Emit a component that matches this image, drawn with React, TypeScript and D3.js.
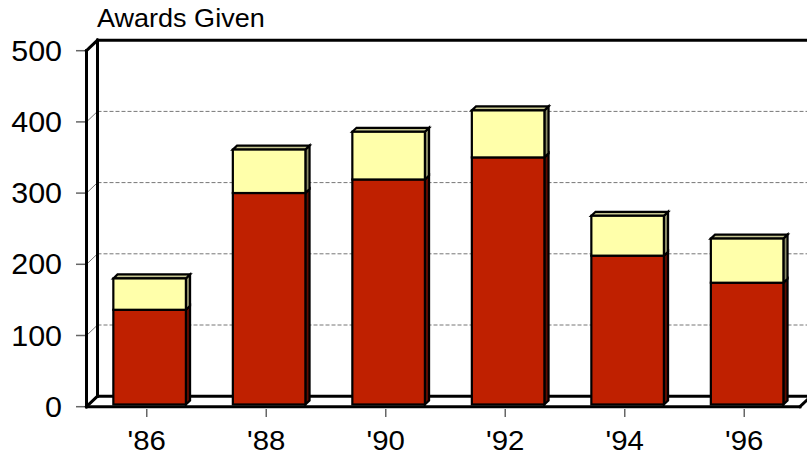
import React from "react";
import * as d3 from "d3";

const categories = ["'86", "'88", "'90", "'92", "'94", "'96"];
const redValues = [133, 297, 316, 347, 209, 171];
const yellowValues = [44, 61, 67, 66, 56, 62];
const yTicks = [0, 100, 200, 300, 400, 500];
const title = "Awards Given";

const W = 807;
const H = 458;
const DX = 11;
const DY = -10.5;
const FONT = "'Liberation Sans', Arial, sans-serif";

export default function App() {
  const y = d3.scaleLinear().domain([0, 500]).range([406.7, 50.7]);
  const x = d3
    .scaleBand<string>()
    .domain(categories)
    .range([87, 804])
    .paddingInner(0.393)
    .paddingOuter(0.1965);

  const xL = 86.5;
  const xR = 800;
  const f0 = 0.26;
  const f1 = 0.64;

  const poly = (pts: [number, number][]) => pts.map((p) => p.join(",")).join(" ");

  const bars = categories.map((c, i) => {
    const left = (x(c) as number) + DX * f0;
    const right = left + x.bandwidth();
    const oy = DY * f0;
    const ddx = DX * (f1 - f0);
    const ddy = DY * (f1 - f0);
    const yb = y(0) + oy + 0.5;
    const yr = y(redValues[i]) + oy + 0.5;
    const yt = y(redValues[i] + yellowValues[i]) + oy + 0.5;
    return (
      <g key={c} stroke="#000" strokeWidth={2.2} strokeLinejoin="miter">
        <polygon points={poly([[right, yb], [right + ddx, yb + ddy], [right + ddx, yr + ddy], [right, yr]])} fill="#5c0c00" />
        <polygon points={poly([[right, yr], [right + ddx, yr + ddy], [right + ddx, yt + ddy], [right, yt]])} fill="#8a8a66" />
        <polygon points={poly([[left, yt], [left + ddx, yt + ddy], [right + ddx, yt + ddy], [right, yt]])} fill="#c6c690" />
        <rect x={left} y={yr} width={right - left} height={yb - yr} fill="#bf2000" />
        <rect x={left} y={yt} width={right - left} height={yr - yt} fill="#ffffaa" />
      </g>
    );
  });

  return (
    <svg width={W} height={H} style={{ position: "absolute", left: 0, top: 0, background: "#fff" }}>
      <rect width={W} height={H} fill="#fff" />
      <text x={0} y={0} transform="translate(97,26.5) scale(1.06,1)" fontFamily={FONT} fontSize={25.5} fill="#000">
        {title}
      </text>
      {yTicks.slice(1, 5).map((t) => (
        <g key={"g" + t}>
          <line x1={xL + DX} x2={W + 5} y1={y(t) + DY} y2={y(t) + DY} stroke="#777" strokeWidth={1} strokeDasharray="4,2" />
          <line x1={xL} x2={xL + DX} y1={y(t)} y2={y(t) + DY} stroke="#777" strokeWidth={1} />
        </g>
      ))}
      {yTicks.map((t) => (
        <g key={"t" + t}>
          <line x1={76} x2={xL} y1={y(t)} y2={y(t)} stroke="#666" strokeWidth={1.5} />
          <text x={0} y={0} transform={`translate(62,${y(t) + 10}) scale(1.05,1)`} textAnchor="end" fontFamily={FONT} fontSize={29} fill="#000">
            {t}
          </text>
        </g>
      ))}
      <g stroke="#000" strokeWidth={3} fill="none" strokeLinejoin="miter" strokeLinecap="square">
        <line x1={xL} y1={y(0)} x2={xL} y2={y(500)} />
        <line x1={xL + DX} y1={y(0) + DY} x2={xL + DX} y2={y(500) + DY} />
        <line x1={xL} y1={y(500)} x2={xL + DX} y2={y(500) + DY} />
        <line x1={xL + DX} y1={y(500) + DY} x2={W + 5} y2={y(500) + DY} />
        <line x1={xL} y1={y(0)} x2={xR} y2={y(0)} />
        <line x1={xL + DX} y1={y(0) + DY} x2={xR + DX} y2={y(0) + DY} />
        <line x1={xL} y1={y(0)} x2={xL + DX} y2={y(0) + DY} />
        <line x1={xR} y1={y(0)} x2={xR + DX} y2={y(0) + DY} />
      </g>
      {categories.map((c) => {
        const cx = (x(c) as number) + x.bandwidth() / 2;
        return (
          <g key={"x" + c}>
            <line x1={cx} x2={cx} y1={409} y2={417} stroke="#666" strokeWidth={1.5} />
            <text x={0} y={0} transform={`translate(${cx},449.5) scale(1.05,1)`} textAnchor="middle" fontFamily={FONT} fontSize={28} fill="#000">
              {c}
            </text>
          </g>
        );
      })}
      {bars}
    </svg>
  );
}
